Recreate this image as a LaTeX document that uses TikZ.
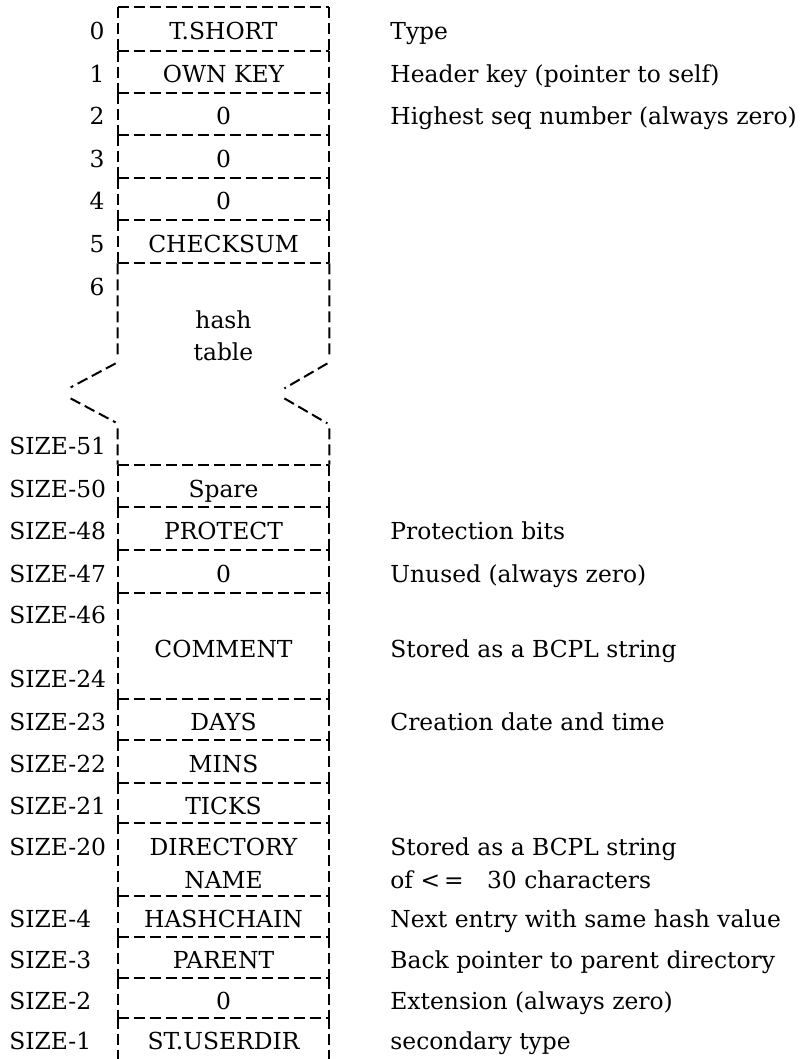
\documentclass[tikz,border=0pt]{standalone}
\usepackage{fontspec}
\setmainfont{DejaVu Serif}

\begin{document}
\begin{tikzpicture}[x=0.5pt,y=-0.5pt,
		every node/.style={font=\fontsize{11.7}{16}\selectfont,inner sep=0pt,
			text height=11pt,text depth=0pt},
		word/.style={minimum width=105.5pt},
		rule/.style={line width=1pt,dash pattern=on 5.5pt off 2.5pt}]
	\useasboundingbox (0,0) rectangle (808,1059);
	\coordinate (numcol) at (105,0);
	\coordinate (sizecol) at (9,0);
	\coordinate (desccol) at (390,0);
	% the words of the block
	\foreach \n/\t/\b/\txt in {w0/7/51/T.SHORT, w1/51/93/OWN KEY, w2/93/135/0,
		w3/135/178/0, w4/178/220/0, w5/220/263/CHECKSUM, spare/465/507/Spare,
		protect/507/550/PROTECT, unused/550/593/0, comment/593/699/COMMENT,
		days/699/740/DAYS, mins/740/783/MINS, ticks/783/823/TICKS,
		dirname/823/896/{}, chain/896/937/HASHCHAIN, parent/937/978/PARENT,
		ext/978/1018/0, sectype/1018/1059/ST.USERDIR}
	{
		\node[word,minimum height={(\b-\t)*0.5pt}] (\n) at (223.5,{(\t+\b)/2}) {\txt};
		\draw[rule] (\n.north west) -- (\n.north east)
			(\n.north west) -- (\n.south west)
			(\n.north east) -- (\n.south east);
	}
	\draw[rule] (w5.south west) -- (w5.south east);
	\node (dir) at (223.5,844) {DIRECTORY};
	\node (name) at (223.5,877) {NAME};
	% hash table with the break
	\node (hash) at (223.5,317) {hash};
	\node (table) at (223.5,349) {table};
	\draw[rule] (w5.south west) -- ++(0,95) ++(-2,5) -- ++(-45,24)
		++(0,11) -- ++(45,24) ++(2,6) -- (spare.north west);
	\draw[rule] (w5.south east) -- ++(0,95) ++(-2,5) -- ++(-43,25)
		++(0,10) -- ++(43,25) ++(2,5) -- (spare.north east);
	% offsets
	\foreach \n/\lab in {w0/0, w1/1, w2/2, w3/3, w4/4, w5/5}
		\node[anchor=east] (num\lab) at (\n -| numcol) {\lab};
	\node[anchor=east] (num6) at (105,284) {6};
	\foreach \n/\lab in {spare/50, protect/48, unused/47, days/23, mins/22,
		ticks/21, chain/4, parent/3, ext/2, sectype/1}
		\node[anchor=west] (size\lab) at (\n -| sizecol) {SIZE-\lab};
	\node[anchor=west] (size51) at (9,443) {SIZE-51};
	\node[anchor=west] (size46) at (9,612) {SIZE-46};
	\node[anchor=west] (size24) at (9,676) {SIZE-24};
	\node[anchor=west] (size20) at (9,844) {SIZE-20};
	% descriptions
	\foreach \n/\d in {w0/Type, w1/Header key (pointer to self),
		w2/Highest seq number (always zero), protect/Protection bits,
		unused/Unused (always zero), comment/Stored as a BCPL string,
		days/Creation date and time, chain/Next entry with same hash value,
		parent/Back pointer to parent directory, ext/Extension (always zero),
		sectype/secondary type}
		\node[anchor=west] (d\n) at (\n -| desccol) {\d};
	\node[anchor=west] (ddir) at (390,844) {Stored as a BCPL string};
	\node[anchor=west] (dlen) at (390,877) {of <\,=\quad 30 characters};
\end{tikzpicture}
\end{document}
